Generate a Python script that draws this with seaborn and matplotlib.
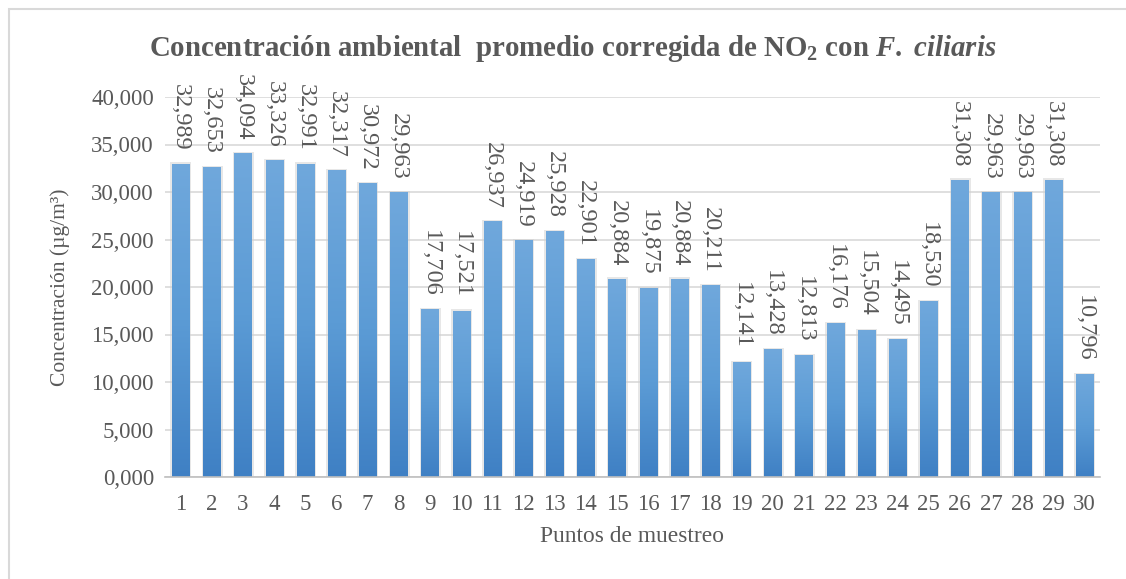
import numpy as np
import pandas as pd
import matplotlib
matplotlib.use("Agg")
import matplotlib.pyplot as plt
import seaborn as sns
from matplotlib.colors import LinearSegmentedColormap
from matplotlib.patches import Rectangle

puntos = [str(i) for i in range(1, 31)]
valores = [32.989, 32.653, 34.094, 33.326, 32.991, 32.317, 30.972, 29.963, 17.706, 17.521,
           26.937, 24.919, 25.928, 22.901, 20.884, 19.875, 20.884, 20.211, 12.141, 13.428,
           12.813, 16.176, 15.504, 14.495, 18.530, 31.308, 29.963, 29.963, 31.308, 10.796]
yticks = [0, 5, 10, 15, 20, 25, 30, 35, 40]

df = pd.DataFrame({"Punto": puntos, "Valor": valores})

sns.set_theme(style="white")
plt.rcParams['font.family'] = ['Liberation Serif', 'DejaVu Serif']
plt.rcParams['mathtext.fontset'] = 'custom'
plt.rcParams['mathtext.rm'] = 'Liberation Serif:bold'
plt.rcParams['mathtext.it'] = 'Liberation Serif:italic:bold'
plt.rcParams['mathtext.bf'] = 'Liberation Serif:bold'

TXT = '#595959'
fig = plt.figure(figsize=(11.26, 5.79), dpi=100)
ax = fig.add_axes([165/1126, 1-477/579, (1100-165)/1126, (477-97)/579])

sns.barplot(data=df, x="Punto", y="Valor", ax=ax, color='#5b9bd5', width=0.55,
            saturation=1, edgecolor='none')

cmap = LinearSegmentedColormap.from_list('g', ['#3f80c4', '#5b9bd5', '#70a8dc'])
grad = np.linspace(0, 1, 256).reshape(-1, 1)
for p in ax.patches:
    x0, w, h = p.get_x(), p.get_width(), p.get_height()
    sh = Rectangle((x0 - 0.05, 0), w + 0.12, h + 0.12, facecolor='#d0d0d0', edgecolor='none',
                   alpha=0.5, zorder=1.5)
    ax.add_patch(sh)
    im = ax.imshow(grad, extent=[x0, x0 + w, 0, h], origin='lower', aspect='auto',
                   cmap=cmap, zorder=2.5)
    im.set_clip_path(p)

ax.set_xlim(-0.5, 29.5)
ax.set_ylim(0, 40)
ax.set_yticks(yticks)
ax.set_yticklabels([f"{v:.3f}".replace('.', ',') for v in yticks])
ax.yaxis.grid(True, color='#d9d9d9', linewidth=1.2)
ax.set_axisbelow(True)
for s in ['top', 'right', 'left']:
    ax.spines[s].set_visible(False)
ax.spines['bottom'].set_color('#bfbfbf')
ax.spines['bottom'].set_linewidth(1.2)
ax.tick_params(axis='both', length=0, labelsize=16.5, colors=TXT, pad=8)
ax.tick_params(axis='x', pad=12)

ax.bar_label(ax.containers[0], labels=[f"{v:.3f}".replace('.', ',') for v in valores],
             rotation=-90, padding=9, fontsize=17.5, color=TXT)

ax.set_xlabel("Puntos de muestreo", fontsize=16.9, color=TXT, labelpad=8)
ax.set_ylabel("Concentración (µg/m³)", fontsize=15.5, color=TXT, labelpad=15)

fig.text(0.5085, 1-49/579,
         r"Concentración ambiental  promedio corregida de NO$_\mathrm{2}$ con $\mathit{F.}$ $\mathit{ciliaris}$",
         ha='center', va='center', fontsize=20.8, fontweight='bold', color=TXT)

fig.patches.append(Rectangle((9/1126, -0.01), 1.1, 1 - 9/579 + 0.01, transform=fig.transFigure,
                             facecolor='none', edgecolor='#d9d9d9', linewidth=1.5))

fig.savefig("out.png", dpi=100)
